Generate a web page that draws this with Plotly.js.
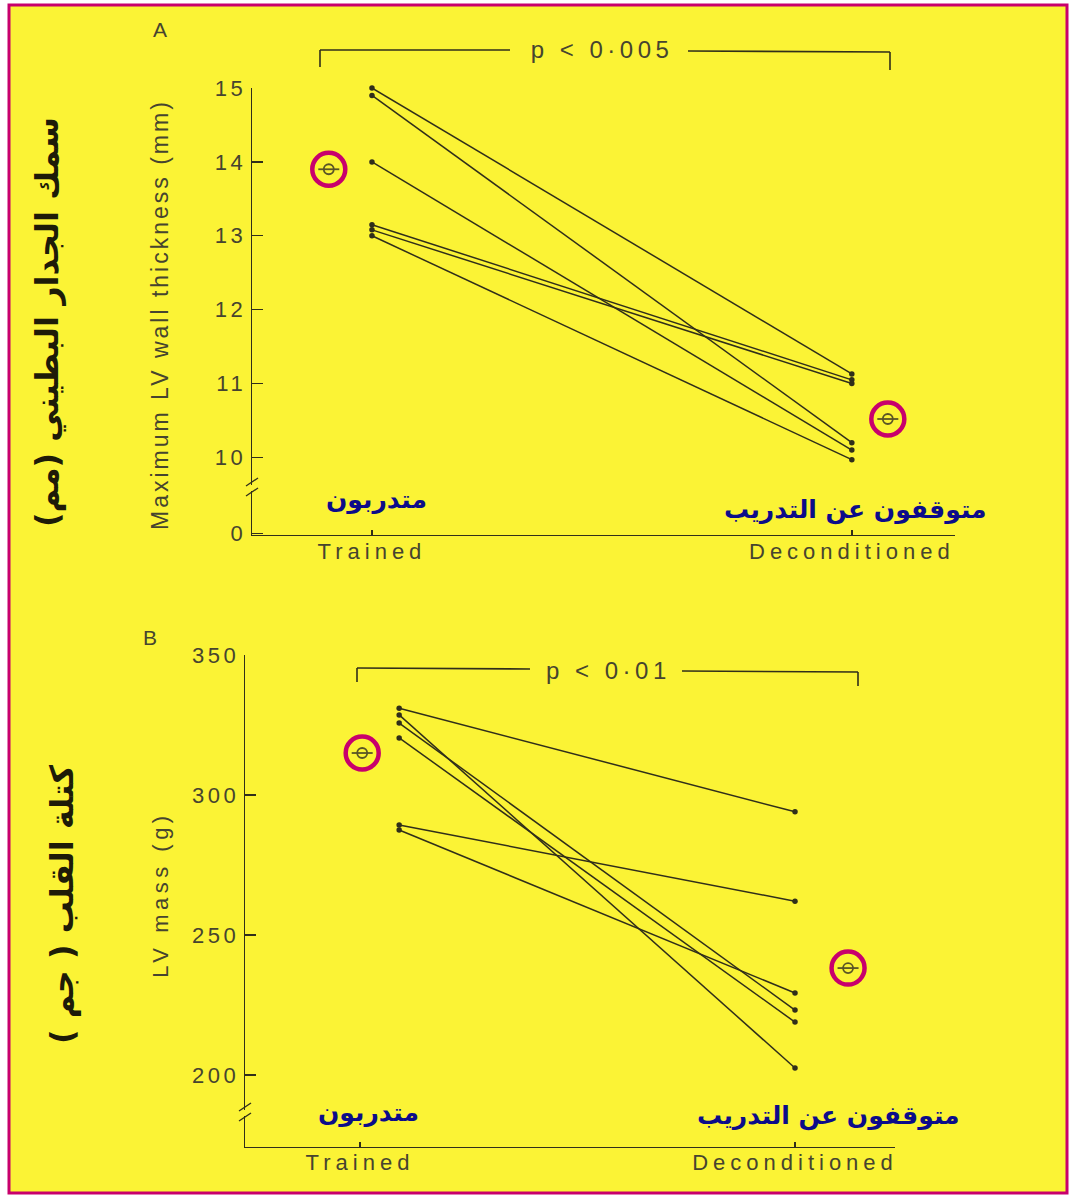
<!DOCTYPE html>
<html>
<head>
<meta charset="utf-8">
<script src="https://cdn.plot.ly/plotly-3.0.1.min.js"></script>
<style>
  body { margin: 0; padding: 0; background: #ffffff; }
  #chart { width: 1070px; height: 1196px; }
  .xtick text, .x2tick text { letter-spacing: 5px; }
  .ytick text, .y2tick text { letter-spacing: 3.5px; }
  g.annotation[data-index="0"] text, g.annotation[data-index="1"] text { letter-spacing: 4.5px; }
  g.annotation[data-index="2"] text { letter-spacing: 3px; }
  g.annotation[data-index="3"] text { letter-spacing: 4.5px; }
</style>
</head>
<body>
<div id="chart"></div>
<script>
// ---------- data ----------
const categories = ['Trained', 'Deconditioned'];

// Panel A: maximum LV wall thickness (mm), one pair per athlete
const thickTrained = [15.0, 14.9, 14.0, 13.15, 13.08, 13.0];
const thickDecond  = [11.13, 10.2, 10.1, 11.05, 11.0, 9.97];
const thickMeans   = [13.9, 10.52];
const thickTickVals = [10, 11, 12, 13, 14, 15];
const thickTickText = ['10', '11', '12', '13', '14', '15'];

// Panel B: LV mass (g), one pair per athlete
const massTrained = [331, 328.6, 325.7, 320.4, 289.3, 287.5];
const massDecond  = [294, 202.5, 223.2, 218.9, 262.1, 229.3];
const massMeans   = [315, 238.2];
const massTickVals = [200, 250, 300, 350];
const massTickText = ['200', '250', '300', '350'];

const pTextA = 'p < 0·005';
const pTextB = 'p < 0·01';
const titleA = 'Maximum LV wall thickness (mm)';
const titleB = 'LV mass (g)';
const arTitleA = 'سمك الجدار البطيني (مم)';
const arTitleB = 'كتلة القلب ( جم )';
const arTrained = 'متدربون';
const arDecond = 'متوقفون عن التدريب';

// ---------- style ----------
const W = 1070, H = 1196;
const px = v => v / W;
const py = v => 1 - v / H;
const YELLOW = '#fbf335';
const MAGENTA = '#c8006c';
const INK = '#302e1a';
const GREY = '#46442f';
const NAVY = '#0c0c8a';
const latin = 'Liberation Sans, Arial, sans-serif';
const arabic = 'DejaVu Sans, sans-serif';

// x offsets (positions, not data)
const xA = [0, 1];
const xB = [0.09, 1];
const xMeanA = [-0.09, 1.075];
const xMeanB = [0.005, 1.122];

const traces = [];
function addPairs(tr, de, xs, xa, ya) {
  for (let i = 0; i < tr.length; i++) {
    traces.push({
      type: 'scatter', mode: 'lines+markers', x: xs, y: [tr[i], de[i]],
      xaxis: xa, yaxis: ya, cliponaxis: false, hoverinfo: 'skip',
      line: { color: INK, width: 1.5 },
      marker: { color: INK, size: 5.5 }
    });
  }
}
function addMeans(means, xs, xa, ya) {
  traces.push({
    type: 'scatter', mode: 'markers', x: xs, y: means, xaxis: xa, yaxis: ya,
    cliponaxis: false, hoverinfo: 'skip',
    marker: { symbol: 'circle-open', size: 33, color: MAGENTA, line: { color: MAGENTA, width: 4.5 } }
  });
  traces.push({
    type: 'scatter', mode: 'markers', x: xs, y: means, xaxis: xa, yaxis: ya,
    cliponaxis: false, hoverinfo: 'skip',
    marker: { symbol: 'circle-open', size: 10, color: '#5a5526', line: { color: '#5a5526', width: 1.8 } }
  });
  traces.push({
    type: 'scatter', mode: 'markers', x: xs, y: means, xaxis: xa, yaxis: ya,
    cliponaxis: false, hoverinfo: 'skip',
    marker: { symbol: 'line-ew', size: 15, color: '#5a5526', line: { color: '#5a5526', width: 1.8 } }
  });
}
addPairs(thickTrained, thickDecond, xA, 'x', 'y');
addPairs(massTrained, massDecond, xB, 'x2', 'y2');
addMeans(thickMeans, xMeanA, 'x', 'y');
addMeans(massMeans, xMeanB, 'x2', 'y2');

const yTickFont = { family: latin, size: 22, color: GREY };
const xTickFont = { family: latin, size: 22, color: GREY };
const axisCommon = {
  showgrid: false, zeroline: false, showline: true, linecolor: INK, linewidth: 1.4,
  ticks: 'inside', tickcolor: INK, tickwidth: 1.4, fixedrange: true
};

// bottom of the broken thickness axis carries the "0" label
const aBottom = 8.95;

const layout = {
  width: W, height: H,
  margin: { l: 0, r: 0, t: 0, b: 0 },
  paper_bgcolor: '#ffffff', plot_bgcolor: 'rgba(0,0,0,0)',
  showlegend: false,
  xaxis: Object.assign({}, axisCommon, {
    domain: [px(252), px(955)], range: [-0.25, 1.215], anchor: 'y',
    tickvals: [0, 1], ticktext: categories, ticklen: 5, ticklabelstandoff: -4, tickfont: xTickFont
  }),
  yaxis: Object.assign({}, axisCommon, {
    domain: [py(535), py(88)], range: [aBottom, 15.0], anchor: 'x',
    tickvals: [aBottom + 0.02].concat(thickTickVals), ticktext: ['0'].concat(thickTickText),
    ticklen: 11, ticklabelstandoff: 0, tickfont: yTickFont
  }),
  xaxis2: Object.assign({}, axisCommon, {
    domain: [px(245), px(895)], range: [-0.2644, 1.2299], anchor: 'y2',
    tickvals: [0, 1], ticktext: categories, ticklen: 5, ticklabelstandoff: -5, tickfont: xTickFont
  }),
  yaxis2: Object.assign({}, axisCommon, {
    domain: [py(1147), py(655)], range: [174.3, 350], anchor: 'x2',
    tickvals: massTickVals, ticktext: massTickText, ticklen: 11, ticklabelstandoff: 0, tickfont: yTickFont
  }),
  shapes: [],
  annotations: []
};

function seg(x0, y0, x1, y1, w, c) {
  layout.shapes.push({ type: 'line', xref: 'paper', yref: 'paper',
    x0: px(x0), y0: py(y0), x1: px(x1), y1: py(y1),
    line: { color: c || INK, width: w || 1.6 }, layer: 'above' });
}
// page frame
layout.shapes.push({ type: 'rect', xref: 'paper', yref: 'paper', layer: 'below',
  x0: px(9), x1: px(1067), y0: py(1193), y1: py(5),
  fillcolor: YELLOW, line: { color: MAGENTA, width: 3 } });
// brackets
seg(320, 67, 320, 50); seg(320, 50, 510, 50); seg(688, 51, 890, 52); seg(890, 52, 890, 70);
seg(357, 682, 357, 668); seg(357, 668, 530, 669); seg(682, 671, 858, 672); seg(858, 672, 858, 686);
// axis breaks
function brk(x, y) {
  layout.shapes.push({ type: 'rect', xref: 'paper', yref: 'paper', layer: 'above',
    x0: px(x - 3), x1: px(x + 3), y0: py(y + 3), y1: py(y - 3),
    fillcolor: YELLOW, line: { width: 0 } });
  seg(x - 6, y - 2, x + 6, y - 10, 1.3);
  seg(x - 6, y + 8, x + 6, y + 0, 1.3);
}
brk(252, 488);
brk(245, 1113);

function ann(text, x, y, font, extra) {
  layout.annotations.push(Object.assign({
    text: text, xref: 'paper', yref: 'paper', x: px(x), y: py(y),
    xanchor: 'center', yanchor: 'middle', showarrow: false, font: font
  }, extra || {}));
}
const pFont = { family: latin, size: 24, color: GREY };
ann(pTextA, 602, 50, pFont);                                   // 0
ann(pTextB, 608, 670, pFont);                                  // 1
ann(titleA, 160, 315, { family: latin, size: 23, color: GREY }, { textangle: -90 }); // 2
ann(titleB, 160, 895, { family: latin, size: 22, color: GREY }, { textangle: -90 }); // 3
ann('A', 160, 30, { family: latin, size: 21, color: GREY });   // 4
ann('B', 150, 637, { family: latin, size: 21, color: GREY });  // 5
const arV = { family: arabic, size: 32, color: '#1e1b08', weight: 'bold' };
ann(arTitleA, 47, 322, arV, { textangle: -90 });               // 6
ann(arTitleB, 62, 905, arV, { textangle: -90 });               // 7
const arH = { family: arabic, size: 25, color: NAVY, weight: 'bold' };
ann(arTrained, 376, 500, arH);
ann(arDecond, 855, 510, arH);
ann(arTrained, 368, 1113, arH);
ann(arDecond, 828, 1116, arH);

Plotly.newPlot('chart', traces, layout, { displayModeBar: false, staticPlot: true });
</script>
</body>
</html>
